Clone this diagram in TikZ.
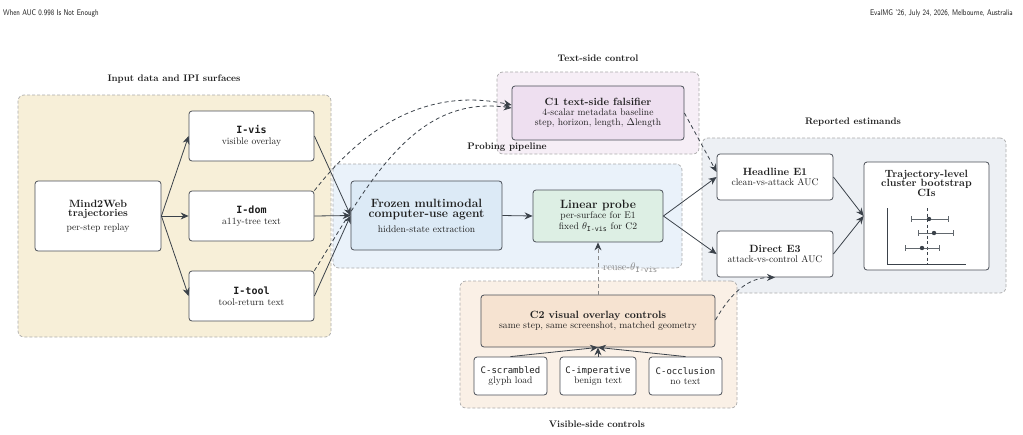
\documentclass[tikz,border=0pt]{standalone}
\usepackage{amsmath}
\usepackage{fontspec}
\setmonofont{DejaVu Sans Mono}
\usetikzlibrary{arrows.meta,calc}
\definecolor{txt}{HTML}{1E1E1E}
\definecolor{regline}{HTML}{ABABAB}
\definecolor{boxline}{HTML}{4A4F57}
\definecolor{arrcol}{HTML}{3B424A}
\definecolor{fin}{HTML}{F7EFD8}
\definecolor{fprobe}{HTML}{EAF2FA}
\definecolor{ftext}{HTML}{F6EEF6}
\definecolor{frep}{HTML}{EDF0F4}
\definecolor{fvis}{HTML}{FAF0E6}
\definecolor{ffrozen}{HTML}{DCEAF6}
\definecolor{fprobebox}{HTML}{DDEFE4}
\definecolor{fcone}{HTML}{EEDFF0}
\definecolor{fctwo}{HTML}{F6E3D1}
\definecolor{reusecol}{HTML}{8A8A8A}
\newcommand{\subf}{\fontsize{9.6}{11}\selectfont}
\newcommand{\ttlf}{\fontsize{10.5}{12}\selectfont\bfseries}
\newcommand{\bigf}{\fontsize{12}{14}\selectfont\bfseries}
\newcommand{\regf}{\fontsize{9.5}{11}\selectfont\bfseries}
\newcommand{\thetavis}{$\theta_{\text{\ttfamily I-vis}}$}
\begin{document}
\begin{tikzpicture}[x=1pt,y=-1pt,
  region/.style={draw=regline, dash pattern=on 3pt off 2pt, rounded corners=6pt, line width=0.7pt, inner sep=0pt},
  boxn/.style={draw=boxline, rounded corners=3pt, line width=0.8pt, fill=white, align=center, inner sep=0pt, text=txt, font=\subf},
  regtitle/.style={text=txt, font=\regf, inner sep=0pt},
  hdr/.style={inner sep=0pt, font=\sffamily\fontsize{8.2}{9}\selectfont, text=txt},
  arr/.style={-{Stealth[length=8pt,width=7pt]}, draw=arrcol, line width=0.8pt},
  darr/.style={arr, dash pattern=on 4pt off 3pt},
  plotl/.style={draw=arrcol, line width=0.6pt}
]
\useasboundingbox (0,0) rectangle (1023,434);
% header
\node[hdr, anchor=base west] (hl) at (3,15) {\scalebox{0.8}[1]{When AUC 0.998 Is Not Enough}};
\node[hdr, anchor=base east] (hr) at (1013,15) {\scalebox{0.8}[1]{EvalMG '26, July 24, 2026, Melbourne, Australia}};

% regions
\node[region, fill=fin, minimum width=313pt, minimum height=242pt] (rin) at (174.5,216) {};
\node[region, fill=ftext, minimum width=202pt, minimum height=82pt] (rtext) at (598,113) {};
\node[region, fill=fprobe, minimum width=349pt, minimum height=104pt] (rprobe) at (507.5,216) {};
\node[region, fill=frep, minimum width=304pt, minimum height=155pt] (rrep) at (854,215.5) {};
\node[region, fill=fvis, minimum width=277pt, minimum height=127pt] (rvis) at (598.5,344.5) {};

\node[regtitle] (tin) at (174,79) {Input data and IPI surfaces};
\node[regtitle] (ttext) at (598,58) {Text-side control};
\node[regtitle] (tprobe) at (507,147) {Probing pipeline};
\node[regtitle] (trep) at (853,122) {Reported estimands};
\node[regtitle] (tvis) at (597,424) {Visible-side controls};

% input boxes
\node[boxn, minimum width=126pt, minimum height=70pt] (m2w) at (98,216)
  {{\ttlf Mind2Web}\\[-2pt]{\ttlf trajectories}\\[3pt]per-step replay};
\node[boxn, minimum width=125pt, minimum height=50pt] (ivis) at (251.5,136)
  {{\fontsize{10}{11}\selectfont\ttfamily\bfseries I-vis}\\visible overlay};
\node[boxn, minimum width=125pt, minimum height=50pt] (idom) at (251.5,216)
  {{\fontsize{10}{11}\selectfont\ttfamily\bfseries I-dom}\\a11y-tree text};
\node[boxn, minimum width=125pt, minimum height=50pt] (itool) at (251.5,296)
  {{\fontsize{10}{11}\selectfont\ttfamily\bfseries I-tool}\\tool-return text};

% probing
\node[boxn, fill=ffrozen, minimum width=151pt, minimum height=69pt] (frozen) at (426.5,215.5)
  {{\bigf Frozen multimodal}\\[-1pt]{\bigf computer-use agent}\\[4pt]hidden-state extraction};
\node[boxn, fill=fprobebox, minimum width=130pt, minimum height=52pt] (probe) at (598,216)
  {{\bigf Linear probe}\\[-1pt]per-surface for E1\\fixed \thetavis\ for C2};

% text-side
\node[boxn, fill=fcone, minimum width=172pt, minimum height=54pt] (c1) at (598,113)
  {{\ttlf C1 text-side falsifier}\\[-1pt]4-scalar metadata baseline\\[-1pt]step, horizon, length, $\Delta$length};

% reported
\node[boxn, minimum width=116pt, minimum height=46pt] (e1) at (775,177)
  {{\ttlf Headline E1}\\[-1pt]clean-vs-attack AUC};
\node[boxn, minimum width=116pt, minimum height=46pt] (e3) at (775,254)
  {{\ttlf Direct E3}\\[-1pt]attack-vs-control AUC};
\node[boxn, minimum width=125pt, minimum height=108pt] (ci) at (926.5,216) {};
\node[align=center, inner sep=0pt, text=txt, font=\ttlf] (cit) at (926.5,183)
  {Trajectory-level\\[-2.5pt]cluster bootstrap\\[-2.5pt]CIs};
% CI plot
\draw[plotl] (887,208) -- (887,264) -- (966,264);
\draw[plotl, dash pattern=on 3pt off 2.5pt] (927,208) -- (927,264);
\foreach \y/\a/\b/\p in {219/911/948/929, 233/918/953/934, 248/905/939/922}{
  \draw[plotl, draw=arrcol!80] (\a,\y) -- (\b,\y);
  \draw[plotl, draw=arrcol!80] (\a,\y-3) -- (\a,\y+3);
  \draw[plotl, draw=arrcol!80] (\b,\y-3) -- (\b,\y+3);
  \fill[arrcol] (\p,\y) circle (2.2pt);
}

% visible-side
\node[boxn, fill=fctwo, minimum width=234pt, minimum height=52pt] (c2) at (598,321)
  {{\ttlf C2 visual overlay controls}\\[-1pt]same step, same screenshot, matched geometry};
\node[boxn, minimum width=73pt, minimum height=38pt] (cs) at (510.5,376)
  {{\ttfamily\fontsize{9}{10}\selectfont C-scrambled}\\[-1pt]glyph load};
\node[boxn, minimum width=76pt, minimum height=38pt] (cimp) at (598,376)
  {{\ttfamily\fontsize{9}{10}\selectfont C-imperative}\\[-1pt]benign text};
\node[boxn, minimum width=73pt, minimum height=38pt] (cocc) at (685.5,376)
  {{\ttfamily\fontsize{9}{10}\selectfont C-occlusion}\\[-1pt]no text};

% solid arrows
\draw[arr] (m2w.east) -- (ivis.west);
\draw[arr] (m2w.east) -- (idom.west);
\draw[arr] (m2w.east) -- (itool.west);
\draw[arr] (ivis.east) -- (frozen.west);
\draw[arr] (idom.east) -- (frozen.west);
\draw[arr] (itool.east) -- (frozen.west);
\draw[arr] (frozen.east) -- (probe.west);
\draw[arr] (probe.east) -- (e1.west);
\draw[arr] (probe.east) -- (e3.west);
\draw[arr] (e1.east) -- (ci.west);
\draw[arr] (e3.east) -- (ci.west);
\draw[arr] (cs.north) -- (c2.south);
\draw[arr] (cimp.north) -- (c2.south);
\draw[arr] (cocc.north) -- (c2.south);

% dashed arrows
\draw[darr] (idom.north east) to[out=52, in=168] ([yshift=8pt]c1.west);
\draw[darr] (itool.north east) to[out=58, in=172] ([yshift=5pt]c1.west);
\draw[darr] (c1.east) -- ([yshift=5pt]e1.west);
\draw[darr] ([yshift=1pt]c2.east) to[out=60, in=180] (e3.south);
\draw[darr, draw=reusecol, -{Stealth[length=8pt,width=7pt,color=arrcol]}] (c2.north) -- (probe.south);
\node[anchor=west, inner sep=0pt, text=reusecol, font=\fontsize{10.5}{12}\selectfont] (reuse) at (603,268) {reuse-\thetavis};
\end{tikzpicture}
\end{document}
